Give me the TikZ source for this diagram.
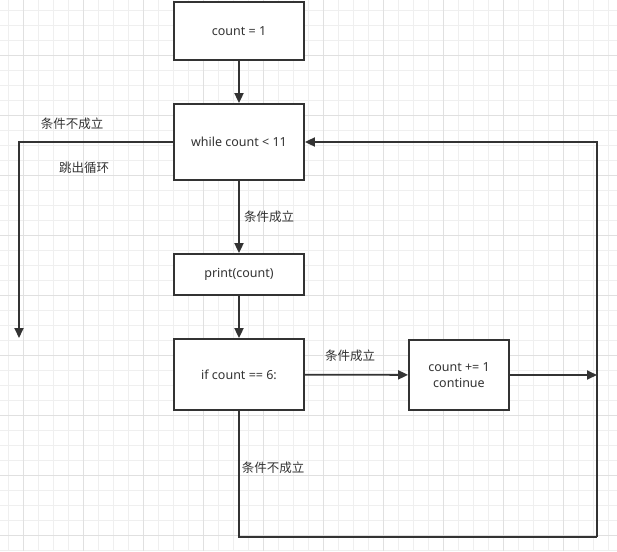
\documentclass[tikz,border=0pt]{standalone}
\usepackage{fontspec}
\setmainfont{Noto Sans}
\newfontfamily\cjk{Noto Sans CJK SC}
\usetikzlibrary{arrows.meta}
\definecolor{cInk}{HTML}{333333}
\definecolor{cGridMinor}{HTML}{EFEFEF}
\definecolor{cGridMajor}{HTML}{E0E0E0}
\tikzset{
  stepbox/.style={draw=cInk, line width=1.8pt, fill=white, align=center,
     inner sep=2pt, text=cInk},
  flow/.style={-{Triangle[length=10pt,width=9pt]}, line width=1.8pt, draw=cInk},
  wire/.style={line width=1.8pt, draw=cInk},
  note/.style={inner sep=1pt, text=cInk, font=\cjk\fontsize{12.5}{15}\selectfont},
}

\begin{document}
\begin{tikzpicture}[x=1pt, y=-1pt, font=\fontsize{12.5}{16}\selectfont]
  \useasboundingbox (0,0) rectangle (617,551);
  % background grid
  \fill[white] (0,0) rectangle (617,551);
  \foreach \gx in {8,23,...,608} \draw[cGridMinor, line width=0.8pt] (\gx,0) -- (\gx,551);
  \foreach \gy in {10,25,...,550} \draw[cGridMinor, line width=0.8pt] (0,\gy) -- (617,\gy);
  \foreach \gx in {23,83,...,563} \draw[cGridMajor, line width=0.8pt] (\gx,0) -- (\gx,551);
  \foreach \gy in {55,115,...,535} \draw[cGridMajor, line width=0.8pt] (0,\gy) -- (617,\gy);

  % steps
  \node[stepbox, minimum width=130pt, minimum height=58pt] (init) at (239,31) {count = 1};
  \node[stepbox, minimum width=130pt, minimum height=76pt] (loop) at (239,142) {while count < 11};
  \node[stepbox, minimum width=130pt, minimum height=41pt] (show) at (239,274.5) {print(count)};
  \node[stepbox, minimum width=130pt, minimum height=71pt] (test) at (239,374.5) {if count == 6:};
  \node[stepbox, minimum width=100pt, minimum height=70pt] (skip) at (459,375) {count += 1\\continue};

  % free ends and corners
  \coordinate (exit) at (19,338);
  \coordinate (join) at (597,375);
  \coordinate (back) at (597,537);

  % main flow
  \draw[flow] (init) -- (loop);
  \draw[flow] (loop) -- (show);
  \draw[flow] (show) -- (test);
  \draw[flow] (test) -- (skip);
  \draw[flow] (skip) -- (join);
  \draw[flow] (loop.west) -| (exit);
  \draw[wire] (test.south) |- (back);
  \draw[flow] (back) |- (loop.east);

  % labels
  \node[note] (exitno) at (72,124) {条件不成立};
  \node[note] (exitmsg) at (84,168) {跳出循环};
  \node[note] (loopyes) at (269,217) {条件成立};
  \node[note] (testyes) at (350,356) {条件成立};
  \node[note] (testno) at (273,468) {条件不成立};
\end{tikzpicture}
\end{document}
